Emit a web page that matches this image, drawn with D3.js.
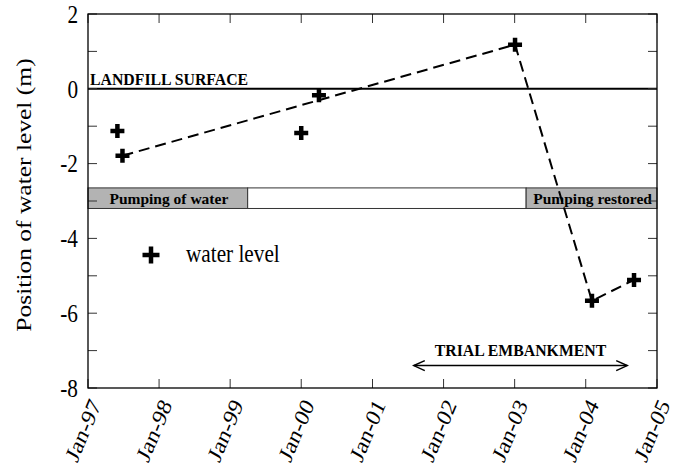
<!DOCTYPE html>
<html><head><meta charset="utf-8">
<script src="https://cdn.jsdelivr.net/npm/d3@7"></script>
<style>body{margin:0;background:#fff} svg{display:block}</style>
</head><body><svg id="c" width="685" height="466"></svg>
<script>
// ---- data ----
const obsDates = ["1997-06-01","1997-06-27","2000-01-01","2000-04-01","2003-01-03","2004-02-02","2004-09-05"];
const obsLevels = [-1.13, -1.79, -1.18, -0.17, 1.18, -5.67, -5.11];
const trendIdx = [1, 4, 5, 6];
const xTickYears = [1997, 1998, 1999, 2000, 2001, 2002, 2003, 2004, 2005];
const yLabelTicks = [2, 0, -2, -4, -6, -8];
const yAllTicks = [2, 1, 0, -1, -2, -3, -4, -5, -6, -7, -8];
const periodLabels = ["Pumping of water", "", "Pumping restored"];
const periodStarts = ["1997-01-01", "1999-04-01", "2003-03-01"];
const periodEnds = ["1999-04-01", "2003-03-01", "2005-01-01"];
const periodShaded = [true, false, true];
const bandLevels = [-2.65, -3.2];
const embankmentDates = ["2001-08-01", "2004-08-01"];
const embankmentLevel = -7.4;
const surfaceLevel = 0;

// ---- setup ----
const parse = d3.utcParse("%Y-%m-%d");
const svg = d3.select("#c");
const L = 88, R = 657, T = 14, B = 388;
const x = d3.scaleUtc().domain([parse("1997-01-01"), parse("2005-01-01")]).range([L, R]);
const y = d3.scaleLinear().domain([-8, 2]).range([B, T]);
const serif = "'Liberation Serif','Times New Roman',Times,serif";
const SX = 0.85;

function txt(px, py, str, o) {
  o = o || {};
  return svg.append("text")
    .attr("transform", `translate(${px},${py}) scale(${o.sx ?? SX},1) rotate(${o.rot || 0})`)
    .attr("font-family", serif)
    .attr("font-size", o.size || 25)
    .attr("font-weight", o.bold ? "bold" : "normal")
    .attr("text-anchor", o.anchor || "start")
    .attr("dy", o.dy || 0)
    .attr("fill", "#000")
    .text(str);
}

// ---- pumping band ----
periodLabels.forEach((lab, i) => {
  const x0 = x(parse(periodStarts[i])), x1 = x(parse(periodEnds[i]));
  svg.append("rect")
    .attr("x", x0).attr("y", y(bandLevels[0]))
    .attr("width", x1 - x0).attr("height", y(bandLevels[1]) - y(bandLevels[0]))
    .attr("fill", periodShaded[i] ? "#b3b3b3" : "#fff")
    .attr("stroke", "#333").attr("stroke-width", 1);
  if (lab) txt((x0 + x1) / 2 + 1, (y(bandLevels[0]) + y(bandLevels[1])) / 2, lab,
    {size: 15.5, bold: true, anchor: "middle", dy: "0.35em", sx: 1});
});

// ---- landfill surface ----
svg.append("line").attr("x1", L).attr("x2", R)
  .attr("y1", y(surfaceLevel)).attr("y2", y(surfaceLevel))
  .attr("stroke", "#000").attr("stroke-width", 2);
txt(L + 2, y(surfaceLevel) - 4, "LANDFILL SURFACE", {size: 15.8, bold: true, sx: 1});

// ---- ticks (inner, all sides) ----
const tk = svg.append("g").attr("stroke", "#333").attr("stroke-width", 1);
xTickYears.forEach(yr => {
  const px = x(new Date(Date.UTC(yr, 0, 1)));
  tk.append("line").attr("x1", px).attr("x2", px).attr("y1", B).attr("y2", B - 9);
  tk.append("line").attr("x1", px).attr("x2", px).attr("y1", T).attr("y2", T + 9);
});
yAllTicks.forEach(v => {
  tk.append("line").attr("x1", L).attr("x2", L + 9).attr("y1", y(v)).attr("y2", y(v));
  tk.append("line").attr("x1", R).attr("x2", R - 9).attr("y1", y(v)).attr("y2", y(v));
});

// ---- frame ----
svg.append("rect").attr("x", L).attr("y", T).attr("width", R - L).attr("height", B - T)
  .attr("fill", "none").attr("stroke", "#000").attr("stroke-width", 1.3);

// ---- tick labels ----
const fmt = d3.utcFormat("%b-%y");
xTickYears.forEach(yr => {
  const d = new Date(Date.UTC(yr, 0, 1));
  txt(x(d) + 7, B + 13, fmt(d), {size: 24.5, anchor: "end", dy: "0.35em", rot: -64});
});
yLabelTicks.forEach(v => {
  txt(L - 10, y(v), String(v), {size: 25, anchor: "end", dy: "0.35em"});
});

// ---- axis title ----
txt(23, 195, "Position of water level (m)", {size: 25.5, anchor: "middle", dy: "0.35em", rot: -90});

// ---- trend line ----
const line = d3.line().x(i => x(parse(obsDates[i]))).y(i => y(obsLevels[i]));
svg.append("path").attr("d", line(trendIdx))
  .attr("fill", "none").attr("stroke", "#000").attr("stroke-width", 2)
  .attr("stroke-dasharray", "11,6");

// ---- points ----
function cross(px, py, h) {
  svg.append("path").attr("d", `M${px - h},${py}H${px + h}M${px},${py - h}V${py + h}`)
    .attr("stroke", "#000").attr("stroke-width", 4.5).attr("fill", "none");
}
obsDates.forEach((d, i) => cross(x(parse(d)), y(obsLevels[i]), 7));

// ---- legend ----
cross(151, 255, 8.5);
txt(186, 262, "water level", {size: 25});

// ---- trial embankment ----
const ex0 = x(parse(embankmentDates[0])), ex1 = x(parse(embankmentDates[1])), ey = y(embankmentLevel);
svg.append("line").attr("x1", ex0).attr("x2", ex1).attr("y1", ey).attr("y2", ey)
  .attr("stroke", "#000").attr("stroke-width", 1.5);
svg.append("path").attr("d", `M${ex0 + 11},${ey - 5}L${ex0},${ey}L${ex0 + 11},${ey + 5}M${ex1 - 11},${ey - 5}L${ex1},${ey}L${ex1 - 11},${ey + 5}`)
  .attr("stroke", "#000").attr("stroke-width", 1.5).attr("fill", "none");
txt((ex0 + ex1) / 2, ey - 10, "TRIAL EMBANKMENT", {size: 15.8, bold: true, anchor: "middle", sx: 1});
</script></body></html>
